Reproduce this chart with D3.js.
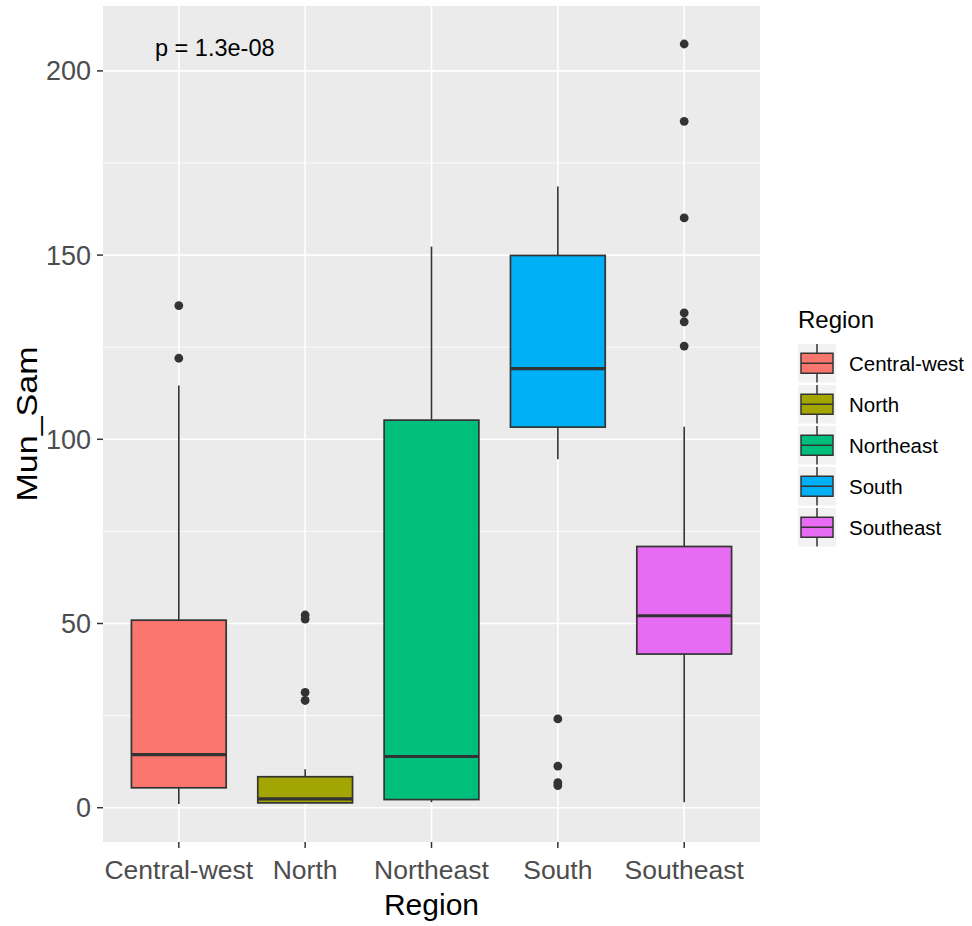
<!DOCTYPE html>
<html>
<head>
<meta charset="utf-8">
<script src="https://cdn.jsdelivr.net/npm/d3@7"></script>
<style>
  html, body { margin: 0; padding: 0; background: #ffffff; }
  svg { display: block; font-family: "Liberation Sans", Arial, sans-serif; }
</style>
</head>
<body>
<svg id="chart" width="972" height="926"></svg>
<script>
// Box-plot summaries of Mun_Sam by region
const categories   = ["Central-west", "North", "Northeast", "South", "Southeast"];
const colors       = ["#F8766D", "#A3A500", "#00BF7D", "#00B0F6", "#E76BF3"];
const whiskerLow   = [1.0, 1.3, 1.5, 94.6, 1.5];
const q1           = [5.4, 1.3, 2.2, 103.3, 41.7];
const median       = [14.4, 2.4, 13.9, 119.2, 52.1];
const q3           = [50.9, 8.4, 105.2, 149.9, 70.9];
const whiskerHigh  = [114.6, 10.4, 152.3, 168.6, 103.4];
const outliers     = [
  [122.0, 136.3],
  [29.1, 31.3, 51.2, 52.3],
  [],
  [6.0, 6.8, 11.3, 24.1],
  [125.3, 131.9, 134.3, 160.1, 186.3, 207.3]
];
const yMajorTicks  = [0, 50, 100, 150, 200];
const yMinorTicks  = [25, 75, 125, 175];
const pLabel       = "p = 1.3e-08";

const svg = d3.select("#chart");
const panel = { left: 103, right: 760, top: 6, bottom: 842 };

// y domain: data range expanded by 5% on each side
const allVals = whiskerLow.concat(whiskerHigh, outliers.flat());
const lo = d3.min(allVals), hi = d3.max(allVals), pad = (hi - lo) * 0.05;
const y = d3.scaleLinear().domain([lo - pad, hi + pad]).range([panel.bottom, panel.top]);

// discrete x: 0.6 unit expansion on each side
const x = d3.scalePoint().domain(categories)
  .range([panel.left, panel.right]).padding(0.6);
const step = x.step();
const boxW = step * 0.75;

// panel background
svg.append("rect")
  .attr("x", panel.left).attr("y", panel.top)
  .attr("width", panel.right - panel.left).attr("height", panel.bottom - panel.top)
  .attr("fill", "#EBEBEB");

const grid = svg.append("g");
grid.selectAll("line.minor").data(yMinorTicks).join("line")
  .attr("x1", panel.left).attr("x2", panel.right)
  .attr("y1", d => y(d)).attr("y2", d => y(d))
  .attr("stroke", "#ffffff").attr("stroke-width", 0.8);
grid.selectAll("line.majory").data(yMajorTicks).join("line")
  .attr("x1", panel.left).attr("x2", panel.right)
  .attr("y1", d => y(d)).attr("y2", d => y(d))
  .attr("stroke", "#ffffff").attr("stroke-width", 1.6);
grid.selectAll("line.majorx").data(categories).join("line")
  .attr("y1", panel.top).attr("y2", panel.bottom)
  .attr("x1", d => x(d)).attr("x2", d => x(d))
  .attr("stroke", "#ffffff").attr("stroke-width", 1.6);

// boxes
const ink = "#333333";
const boxes = svg.append("g");
categories.forEach((c, i) => {
  const cx = x(c);
  const g = boxes.append("g");
  g.append("line").attr("x1", cx).attr("x2", cx)
    .attr("y1", y(whiskerHigh[i])).attr("y2", y(q3[i]))
    .attr("stroke", ink).attr("stroke-width", 1.6);
  g.append("line").attr("x1", cx).attr("x2", cx)
    .attr("y1", y(q1[i])).attr("y2", y(whiskerLow[i]))
    .attr("stroke", ink).attr("stroke-width", 1.6);
  g.append("rect")
    .attr("x", cx - boxW / 2).attr("width", boxW)
    .attr("y", y(q3[i])).attr("height", y(q1[i]) - y(q3[i]))
    .attr("fill", colors[i]).attr("stroke", ink).attr("stroke-width", 1.7);
  g.append("line")
    .attr("x1", cx - boxW / 2).attr("x2", cx + boxW / 2)
    .attr("y1", y(median[i])).attr("y2", y(median[i]))
    .attr("stroke", ink).attr("stroke-width", 3.2);
  g.selectAll("circle").data(outliers[i]).join("circle")
    .attr("cx", cx).attr("cy", d => y(d)).attr("r", 4.4)
    .attr("fill", ink);
});

// p-value annotation
svg.append("text")
  .attr("x", 155).attr("y", 56)
  .attr("font-size", 23.5).attr("fill", "#000000")
  .text(pLabel);

// y axis
const yAxis = svg.append("g");
yAxis.selectAll("line").data(yMajorTicks).join("line")
  .attr("x1", panel.left - 6).attr("x2", panel.left)
  .attr("y1", d => y(d)).attr("y2", d => y(d))
  .attr("stroke", ink).attr("stroke-width", 1.5);
yAxis.selectAll("text").data(yMajorTicks).join("text")
  .attr("x", 91).attr("y", d => y(d) + 9.5)
  .attr("text-anchor", "end").attr("font-size", 27).attr("fill", "#4D4D4D")
  .text(d => d);

// x axis
const xAxis = svg.append("g");
xAxis.selectAll("line").data(categories).join("line")
  .attr("x1", d => x(d)).attr("x2", d => x(d))
  .attr("y1", panel.bottom).attr("y2", panel.bottom + 6)
  .attr("stroke", ink).attr("stroke-width", 1.5);
xAxis.selectAll("text").data(categories).join("text")
  .attr("x", d => x(d)).attr("y", 879)
  .attr("text-anchor", "middle").attr("font-size", 26.5).attr("fill", "#4D4D4D")
  .text(d => d);

// axis titles
svg.append("text")
  .attr("x", (panel.left + panel.right) / 2).attr("y", 915)
  .attr("text-anchor", "middle").attr("font-size", 30).attr("fill", "#000000")
  .text("Region");
svg.append("text")
  .attr("transform", `translate(37,${(panel.top + panel.bottom) / 2}) rotate(-90)`)
  .attr("text-anchor", "middle").attr("font-size", 30).attr("fill", "#000000")
  .attr("textLength", 155).attr("lengthAdjust", "spacingAndGlyphs")
  .text("Mun_Sam");

// legend
const legend = svg.append("g");
legend.append("text")
  .attr("x", 798).attr("y", 328)
  .attr("font-size", 24).attr("fill", "#000000")
  .text("Region");
const keyX = 798, keyW = 38, keyH = 38.5, keyTop = 344, keyStep = 41;
categories.forEach((c, i) => {
  const top = keyTop + i * keyStep;
  const cy = top + keyH / 2;
  const cx = keyX + keyW / 2;
  const k = legend.append("g");
  k.append("rect").attr("x", keyX).attr("y", top)
    .attr("width", keyW).attr("height", keyH).attr("fill", "#F2F2F2");
  k.append("line").attr("x1", cx).attr("x2", cx)
    .attr("y1", top).attr("y2", top + keyH)
    .attr("stroke", ink).attr("stroke-width", 1.5);
  k.append("rect").attr("x", keyX + 3).attr("y", cy - 10)
    .attr("width", keyW - 6).attr("height", 20)
    .attr("fill", colors[i]).attr("stroke", ink).attr("stroke-width", 1.5);
  k.append("line").attr("x1", keyX + 3).attr("x2", keyX + keyW - 3)
    .attr("y1", cy).attr("y2", cy)
    .attr("stroke", ink).attr("stroke-width", 1.5);
  k.append("text").attr("x", 849).attr("y", cy + 7.5)
    .attr("font-size", 20.5).attr("fill", "#000000")
    .text(c);
});
</script>
</body>
</html>
